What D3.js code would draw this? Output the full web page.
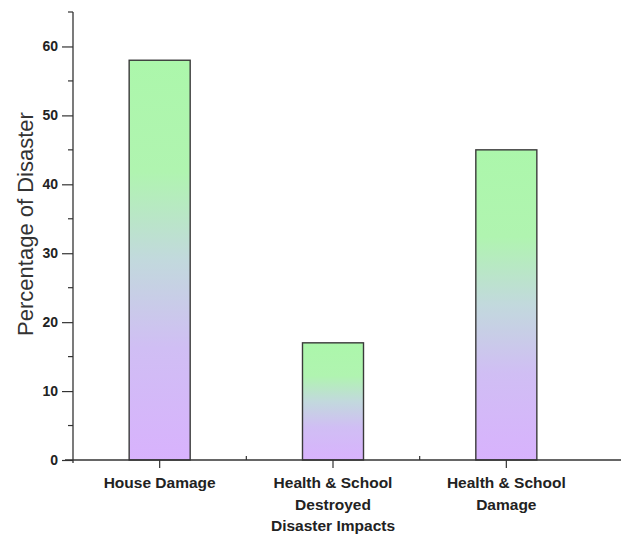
<!DOCTYPE html>
<html>
<head>
<meta charset="utf-8">
<script src="https://cdn.jsdelivr.net/npm/d3@7"></script>
<style>
  html, body { margin: 0; padding: 0; background: #fff; }
  svg { display: block; font-family: "Liberation Sans", Arial, sans-serif; }
</style>
</head>
<body>
<svg id="chart" width="621" height="535"></svg>
<script>
// Disaster impact shares (%)
const categories = ["House Damage", "Health & School Destroyed", "Health & School Damage"];
const categoryLines = [["House Damage"], ["Health & School", "Destroyed"], ["Health & School", "Damage"]];
const values = [58, 17, 45];
const yTicks = [0, 10, 20, 30, 40, 50, 60];
const yMinorTicks = [5, 15, 25, 35, 45, 55, 65];

const svg = d3.select("#chart");
const plotLeft = 73, plotRight = 593, plotTop = 12, plotBottom = 460;

const x = d3.scaleBand().domain(categories).range([plotLeft, plotRight]).paddingInner(0).paddingOuter(0);
const y = d3.scaleLinear().domain([0, 65]).range([plotBottom, plotTop]);
const barW = x.bandwidth() * 0.352;

// Vertical gradient applied per bar: green at the top fading to lavender
const defs = svg.append("defs");
const grad = defs.append("linearGradient")
  .attr("id", "barGrad").attr("x1", 0).attr("y1", 0).attr("x2", 0).attr("y2", 1);
[[0, "#acf7ab"], [0.28, "#b0f4b0"], [0.5, "#c2d9dd"], [0.72, "#d0bef4"], [1, "#d8b2fd"]]
  .forEach(([o, c]) => grad.append("stop").attr("offset", o).attr("stop-color", c));

// Bars
svg.append("g").selectAll("rect")
  .data(values)
  .join("rect")
  .attr("x", (d, i) => x(categories[i]) + (x.bandwidth() - barW) / 2)
  .attr("y", d => y(d))
  .attr("width", barW)
  .attr("height", d => y(0) - y(d))
  .attr("fill", "url(#barGrad)")
  .attr("stroke", "#3a3a3a")
  .attr("stroke-width", 1.4);

// Y axis: major ticks with labels, minor ticks between
const yAxis = svg.append("g").attr("transform", `translate(${plotLeft},0)`)
  .call(d3.axisLeft(y).tickValues(yTicks).tickSize(11).tickSizeOuter(0).tickPadding(4).tickFormat(d3.format("d")));
yAxis.select(".domain").attr("stroke", "#333").attr("stroke-width", 1.3)
  .attr("d", `M0,${plotTop}V${plotBottom + 3}`);
yAxis.selectAll(".tick line").attr("stroke", "#333").attr("stroke-width", 1.2);
yAxis.selectAll(".tick text")
  .attr("font-size", 14).attr("font-weight", "bold").attr("fill", "#222");
svg.append("g").selectAll("line")
  .data(yMinorTicks)
  .join("line")
  .attr("x1", plotLeft - 5).attr("x2", plotLeft)
  .attr("y1", d => y(d)).attr("y2", d => y(d))
  .attr("stroke", "#333").attr("stroke-width", 1.2);

// X axis: ticks at category centres, minor ticks at band edges
const xAxis = svg.append("g").attr("transform", `translate(0,${plotBottom})`)
  .call(d3.axisBottom(x).tickSize(8).tickSizeOuter(0).tickFormat(""));
xAxis.select(".domain").attr("stroke", "#333").attr("stroke-width", 1.3)
  .attr("d", `M${plotLeft - 8},0H621`);
xAxis.selectAll(".tick line").attr("stroke", "#333").attr("stroke-width", 1.2);
svg.append("g").selectAll("line")
  .data(categories.slice(1))
  .join("line")
  .attr("x1", d => x(d)).attr("x2", d => x(d))
  .attr("y1", plotBottom - 4).attr("y2", plotBottom)
  .attr("stroke", "#333").attr("stroke-width", 1.2);

// Multi-line category labels
const lbl = svg.append("g").selectAll("text")
  .data(categories)
  .join("text")
  .attr("x", d => x(d) + x.bandwidth() / 2)
  .attr("y", 488)
  .attr("text-anchor", "middle")
  .attr("font-size", 15.5).attr("font-weight", "bold").attr("fill", "#222");
lbl.each(function(d, i) {
  d3.select(this).selectAll("tspan")
    .data(categoryLines[i])
    .join("tspan")
    .attr("x", x(d) + x.bandwidth() / 2)
    .attr("dy", (t, j) => j === 0 ? 0 : 21.5)
    .text(t => t);
});

// Axis titles
svg.append("text")
  .attr("x", x(categories[1]) + x.bandwidth() / 2)
  .attr("y", 531)
  .attr("text-anchor", "middle")
  .attr("font-size", 15.5).attr("font-weight", "bold").attr("fill", "#222")
  .text("Disaster Impacts");

svg.append("text")
  .attr("transform", "translate(33,224) rotate(-90)")
  .attr("text-anchor", "middle")
  .attr("font-size", 22).attr("fill", "#333")
  .text("Percentage of Disaster");
</script>
</body>
</html>
